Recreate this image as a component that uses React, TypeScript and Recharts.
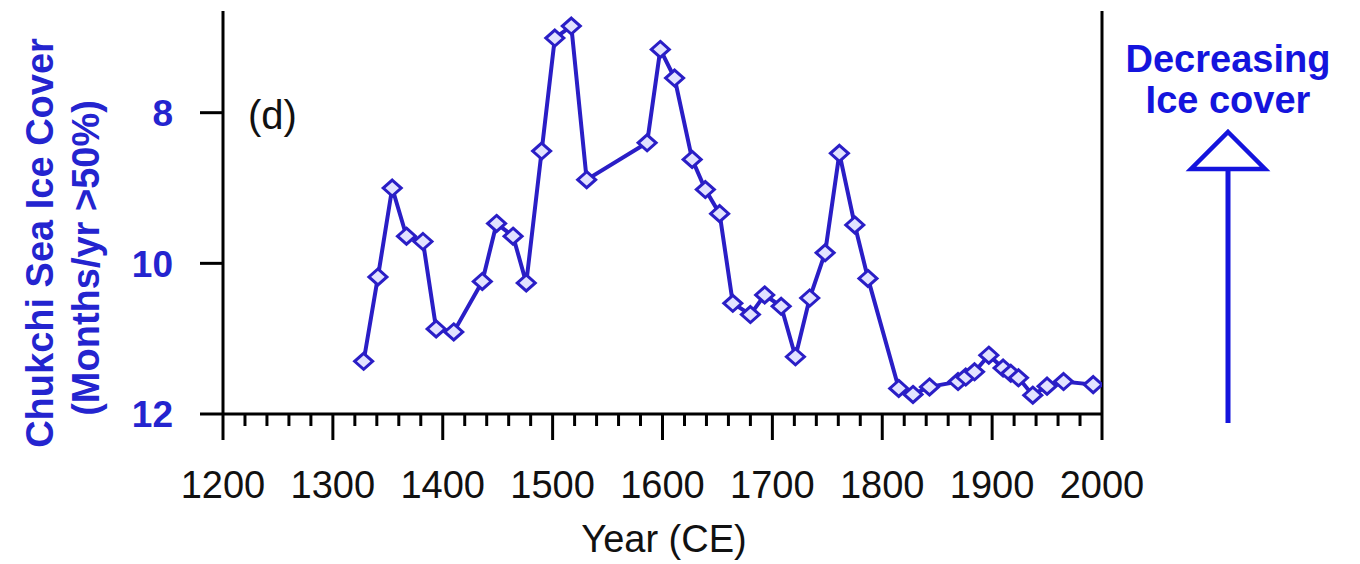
import React from "react";
import { LineChart, Line, XAxis, YAxis, ReferenceLine } from "recharts";

const years = [
  1328, 1341, 1354, 1367, 1382, 1394, 1410, 1436, 1449, 1464, 1476, 1490, 1502, 1517,
  1531, 1586, 1598, 1611, 1627, 1639, 1652, 1664, 1680, 1693, 1708, 1721, 1734, 1748,
  1761, 1775, 1787, 1815, 1828, 1843, 1869, 1876, 1884, 1897, 1910, 1917, 1924, 1937,
  1950, 1965, 1992,
];
const iceCover = [
  11.3, 10.18, 9.0, 9.64, 9.71, 10.87, 10.91, 10.24, 9.47, 9.64, 10.26, 8.51, 7.01, 6.85,
  8.89, 8.4, 7.16, 7.54, 8.62, 9.02, 9.34, 10.53, 10.68, 10.42, 10.57, 11.24, 10.46, 9.86,
  8.54, 9.49, 10.2, 11.66, 11.74, 11.64, 11.57, 11.51, 11.44, 11.22, 11.39, 11.46, 11.52, 11.75,
  11.63, 11.57, 11.61,
];
const xTicks = [
  1200, 1220, 1240, 1260, 1280, 1300, 1320, 1340, 1360, 1380, 1400, 1420, 1440, 1460, 1480,
  1500, 1520, 1540, 1560, 1580, 1600, 1620, 1640, 1660, 1680, 1700, 1720, 1740, 1760, 1780,
  1800, 1820, 1840, 1860, 1880, 1900, 1920, 1940, 1960, 1980, 2000,
];
const xLabelTicks = [1200, 1300, 1400, 1500, 1600, 1700, 1800, 1900, 2000];
const yTicks = [8, 10, 12];

const data = years.map((y, i) => ({ year: y, ice: iceCover[i] }));

const FONT = "'Liberation Sans', Arial, Helvetica, sans-serif";
const LINE_BLUE = "#2a1ec6";
const TEXT_BLUE = "#2424cf";
const ARROW_BLUE = "#1414dd";

const XTick = (props: any) => {
  const { x, y, payload } = props;
  const major = xLabelTicks.includes(payload.value);
  return (
    <g>
      <line x1={x} y1={y} x2={x} y2={y + (major ? 26 : 12)} stroke="#000" strokeWidth={3} />
      {major && (
        <text x={x} y={y + 84} textAnchor="middle" fontSize={38} fill="#111" fontFamily={FONT}>
          {payload.value}
        </text>
      )}
    </g>
  );
};

const YTick = (props: any) => {
  const { x, y, payload } = props;
  return (
    <g>
      <line x1={x - 23} y1={y} x2={x} y2={y} stroke="#000" strokeWidth={3} />
      <text
        x={x - 50}
        y={y}
        dy="0.36em"
        textAnchor="end"
        fontSize={37}
        fontWeight="bold"
        fill={TEXT_BLUE}
        fontFamily={FONT}
      >
        {payload.value}
      </text>
    </g>
  );
};

const Diamond = (props: any) => {
  const { cx, cy, index } = props;
  if (cx == null || cy == null) return null;
  return (
    <polygon
      key={`d-${index}`}
      points={`${cx},${cy - 8} ${cx + 9},${cy} ${cx},${cy + 8} ${cx - 9},${cy}`}
      fill="#e2e2ff"
      stroke={LINE_BLUE}
      strokeWidth={3}
    />
  );
};

export default function App() {
  return (
    <div style={{ position: "absolute", left: 0, top: 0, width: 1360, height: 564, background: "#fff" }}>
      <LineChart
        width={1360}
        height={564}
        data={data}
        margin={{ top: 11, right: 258, bottom: 120, left: 163 }}
      >
        <XAxis
          dataKey="year"
          type="number"
          domain={[1200, 2000]}
          ticks={xTicks}
          interval={0}
          tickSize={0}
          tickMargin={0}
          tickLine={false}
          tick={<XTick />}
          height={30}
          axisLine={{ stroke: "#000", strokeWidth: 3 }}
          allowDataOverflow
        />
        <YAxis
          type="number"
          reversed
          domain={[6.65, 12]}
          ticks={yTicks}
          interval={0}
          tickSize={0}
          tickMargin={0}
          tickLine={false}
          tick={<YTick />}
          width={60}
          axisLine={{ stroke: "#000", strokeWidth: 3 }}
          allowDataOverflow
        />
        <ReferenceLine x={2000} stroke="#000" strokeWidth={3} />
        <Line
          type="linear"
          dataKey="ice"
          stroke={LINE_BLUE}
          strokeWidth={4}
          dot={<Diamond />}
          activeDot={false}
          isAnimationActive={false}
        />
      </LineChart>
      <svg
        width={1360}
        height={564}
        style={{ position: "absolute", left: 0, top: 0, pointerEvents: "none" }}
        fontFamily={FONT}
      >
        <text
          transform="translate(53,243) rotate(-90)"
          textAnchor="middle"
          fontSize={38}
          fontWeight="bold"
          fill={TEXT_BLUE}
        >
          Chukchi Sea Ice Cover
        </text>
        <text
          transform="translate(99,258) rotate(-90)"
          textAnchor="middle"
          fontSize={38}
          fontWeight="bold"
          fill={TEXT_BLUE}
        >
          (Months/yr &gt;50%)
        </text>
        <text x={248} y={129} fontSize={40} fill="#111">
          (d)
        </text>
        <text x={664} y={552} textAnchor="middle" fontSize={38} fill="#111">
          Year (CE)
        </text>
        <text x={1228} y={72} textAnchor="middle" fontSize={38} fontWeight="bold" fill={ARROW_BLUE}>
          Decreasing
        </text>
        <text x={1228} y={113} textAnchor="middle" fontSize={38} fontWeight="bold" fill={ARROW_BLUE}>
          Ice cover
        </text>
        <polygon
          points="1228,132 1265,169 1191,169"
          fill="#fff"
          stroke={ARROW_BLUE}
          strokeWidth={4.5}
          strokeLinejoin="miter"
        />
        <line x1={1228} y1={169} x2={1228} y2={423} stroke={ARROW_BLUE} strokeWidth={5} />
      </svg>
    </div>
  );
}
